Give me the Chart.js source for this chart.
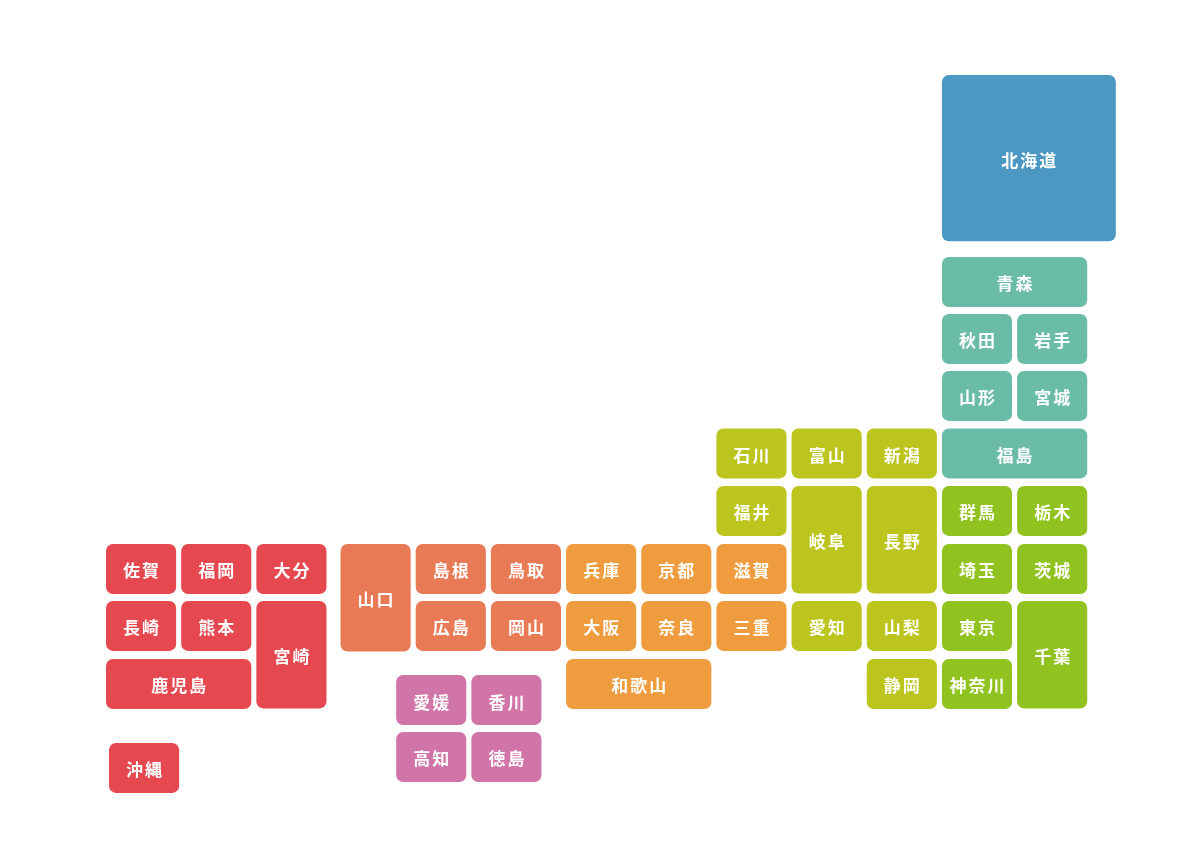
<!DOCTYPE html>
<html lang="ja"><head><meta charset="utf-8">
<style>html,body{margin:0;padding:0;background:#fff}#w{width:1200px;height:851px;position:relative}</style>
<script src="https://cdn.jsdelivr.net/npm/chart.js@4"></script>
</head><body><div id="w"><canvas id="c" width="1200" height="851"></canvas></div>
<script>
const names   =['北海道','青森','秋田','岩手','山形','宮城','福島','群馬','栃木','埼玉','茨城','東京','千葉','神奈川','石川','富山','新潟','福井','岐阜','長野','滋賀','愛知','山梨','三重','静岡','兵庫','京都','大阪','奈良','和歌山','山口','島根','鳥取','広島','岡山','愛媛','香川','高知','徳島','佐賀','福岡','大分','長崎','熊本','宮崎','鹿児島','沖縄'];
const cols    =[11.12,11.12,11.12,12.12,11.12,12.12,11.12,11.12,12.12,11.12,12.12,11.12,12.12,11.12,8.12,9.12,10.12,8.12,9.12,10.12,8.12,9.12,10.12,8.12,10.12,6.12,7.12,6.12,7.12,6.12,3.12,4.12,5.12,4.12,5.12,3.86,4.86,3.86,4.86,0,1,2,0,1,2,0,0.04];
const rows    =[-3.165,0,0.99,0.99,1.98,1.98,2.98,3.98,3.98,4.99,4.99,5.98,5.98,6.99,2.98,2.98,2.98,3.98,3.98,3.98,4.99,5.98,5.98,5.98,6.99,4.99,4.99,5.98,5.98,6.99,4.99,4.99,4.99,5.98,5.98,7.27,7.27,8.26,8.26,4.99,4.99,4.99,5.98,5.98,5.98,6.99,8.45];
const colSpans=[2.38,2,1,1,1,1,2,1,1,1,1,1,1,1,1,1,1,1,1,1,1,1,1,1,1,1,1,1,1,2,1,1,1,1,1,1,1,1,1,1,1,1,1,1,1,2,1];
const rowSpans=[3.02,1,1,1,1,1,1,1,1,1,1,1,2,1,1,1,1,1,2,2,1,1,1,1,1,1,1,1,1,1,2,1,1,1,1,1,1,1,1,1,1,1,1,1,2,1,1];
const regions =[0,1,1,1,1,1,1,2,2,2,2,2,2,2,3,3,3,3,3,3,4,3,3,4,3,4,4,4,4,4,5,5,5,5,5,6,6,6,6,7,7,7,7,7,7,7,7];
const regionNames=['北海道','東北','関東','中部','近畿','中国','四国','九州・沖縄'];
const regionColors=['#4b98c3','#6abca6','#90c31f','#bcc41e','#ef9c3f','#e87a55','#d174a8','#e5484f'];

const GAP_X=0.067, GAP_Y=0.13;
const datasets=names.map((n,i)=>({
  label:n,
  data:[{x:cols[i]+(colSpans[i]-GAP_X)/2, y:[rows[i],rows[i]+rowSpans[i]-GAP_Y]}],
  backgroundColor:regionColors[regions[i]],
  borderWidth:0,borderSkipped:false,borderRadius:7,inflateAmount:0,grouped:false,
  barThickness:(ctx)=>{const s=ctx.chart.scales.x;return s.getPixelForValue(colSpans[i]-GAP_X)-s.getPixelForValue(0);}
}));

const labelPlugin={id:'tileLabels',afterDatasetsDraw(chart){
  const g=chart.ctx;g.save();
  g.font='700 17px "Noto Sans CJK JP"';g.fillStyle='#fff';g.textAlign='center';g.textBaseline='middle';
  g.letterSpacing='2px';
  chart.data.datasets.forEach((d,i)=>{
    const el=chart.getDatasetMeta(i).data[0];
    const cy=(el.y+el.base)/2;
    g.fillText(d.label,el.x+1,cy+2);
  });
  g.restore();
}};

new Chart(document.getElementById('c'),{
  type:'bar',
  data:{datasets},
  plugins:[labelPlugin],
  options:{
    responsive:false,animation:false,
    layout:{padding:0},
    plugins:{legend:{display:false},tooltip:{enabled:false},title:{display:false}},
    scales:{
      x:{type:'linear',display:false,offset:false,min:-1.41,max:14.553},
      y:{type:'linear',display:false,reverse:true,min:-4.47,max:10.33}
    }
  }
});
</script></body></html>
